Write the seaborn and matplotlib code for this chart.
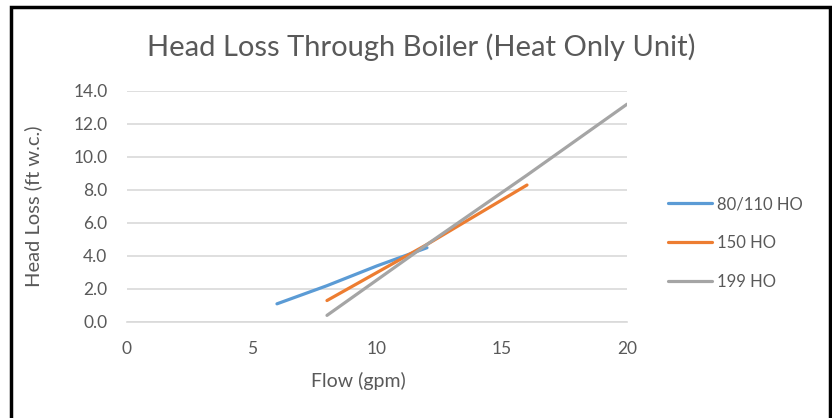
import matplotlib
matplotlib.use("Agg")
import matplotlib.pyplot as plt
import seaborn as sns
import pandas as pd
from matplotlib.patches import Rectangle

# Head loss curves per boiler model (flow in gpm, head loss in ft w.c.)
flow_80_110 = [6, 8, 10, 12]
head_80_110 = [1.1, 2.2, 3.4, 4.5]

flow_150 = [8, 10, 12, 14, 16]
head_150 = [1.3, 3.0, 4.7, 6.5, 8.3]

flow_199 = [8, 12, 16, 20]
head_199 = [0.4, 4.7, 8.9, 13.2]

series_names = ["80/110 HO", "150 HO", "199 HO"]
series_colors = ["#5B9BD5", "#ED7D31", "#A5A5A5"]

x_ticks = [0, 5, 10, 15, 20]
y_ticks = [0.0, 2.0, 4.0, 6.0, 8.0, 10.0, 12.0, 14.0]

frames = []
for name, fx, hy in zip(series_names,
                        [flow_80_110, flow_150, flow_199],
                        [head_80_110, head_150, head_199]):
    frames.append(pd.DataFrame({"Flow": fx, "Head": hy, "Model": name}))
df = pd.concat(frames, ignore_index=True)

sns.set_theme(style="white")
plt.rcParams["font.family"] = ["Lato", "DejaVu Sans"]
text_color = "#595959"

fig = plt.figure(figsize=(8.32, 4.18), dpi=100)
ax = fig.add_axes([0.1526, 0.2297, 0.601, 0.5526])

sns.lineplot(data=df, x="Flow", y="Head", hue="Model", hue_order=series_names,
             palette=series_colors, linewidth=2.3, ax=ax, sort=False,
             estimator=None, legend=False)

ax.set_xlim(0, 20)
ax.set_ylim(0, 14)
ax.set_xticks(x_ticks)
ax.set_yticks(y_ticks)
ax.set_xticklabels([str(v) for v in x_ticks])
ax.set_yticklabels([f"{v:.1f}" for v in y_ticks])
ax.tick_params(axis="both", length=0, labelsize=12.5, colors=text_color)
ax.tick_params(axis="x", pad=14)
ax.tick_params(axis="y", pad=14)
ax.yaxis.grid(True, color="#D9D9D9", linewidth=1.2)
ax.xaxis.grid(False)
for side in ["top", "right", "left"]:
    ax.spines[side].set_visible(False)
ax.spines["bottom"].set_color("#D9D9D9")
ax.spines["bottom"].set_linewidth(1.2)

ax.set_xlabel("Flow (gpm)", fontsize=14, color=text_color)
ax.set_ylabel("Head Loss (ft w.c.)", fontsize=14.5, color=text_color)
ax.xaxis.label.set_va("center")
ax.yaxis.label.set_va("center")
ax.xaxis.set_label_coords(0.463, -0.255)
ax.yaxis.set_label_coords(-0.188, 0.5)

fig.text(0.5066, 0.888, "Head Loss Through Boiler (Heat Only Unit)",
         ha="center", va="center", fontsize=21, color=text_color)

# Legend drawn as line keys beside the plot area
handles = [plt.Line2D([0], [0], color=c, linewidth=2.3) for c in series_colors]
fig.legend(handles, series_names, loc="center left",
           bbox_to_anchor=(0.785, 0.4187), frameon=False, fontsize=12,
           labelcolor=text_color, handlelength=2.65, handletextpad=0.3,
           labelspacing=1.37)

# Outer frame around the chart
fig.patches.append(Rectangle((11 / 832, -0.05), (830 - 11) / 832, 1.05 - 7 / 418,
                             transform=fig.transFigure, fill=False,
                             edgecolor="black", linewidth=2.5))

fig.savefig("out.png", dpi=100, facecolor="white")
